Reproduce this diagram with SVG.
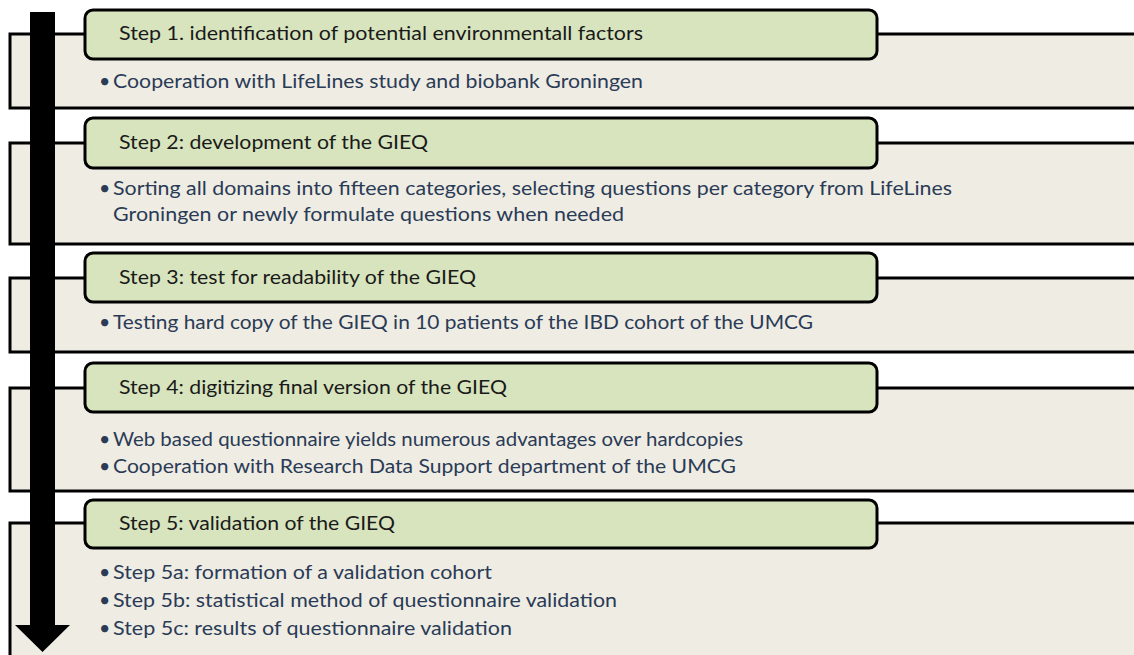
<svg xmlns="http://www.w3.org/2000/svg" width="1134" height="655" viewBox="0 0 1134 655">
<style>
.panel{fill:#efece4;stroke:none}
.edge{fill:none;stroke:#000;stroke-width:3}
.box{fill:#d7e4bd;stroke:#000;stroke-width:3}
.title{font-family:Lato,"Open Sans",sans-serif;font-size:19.5px;fill:#1a1a1a}
.bul{font-family:Lato,"Open Sans",sans-serif;font-size:19.5px;fill:#2a3b56}
</style>
<rect width="1134" height="655" fill="#fff"/>
<g id="step1">
<rect class="panel" x="10" y="34" width="1130" height="74"/>
<path class="edge" d="M1136,34 H10 V108 H1136"/>
<rect class="box" x="85" y="10" width="792" height="49" rx="8"/>
<text class="title" x="119" y="40" textLength="524" lengthAdjust="spacingAndGlyphs">Step 1. identification of potential environmentall factors</text>
<text class="bul" x="99" y="88">•</text>
<text class="bul" x="113" y="88" textLength="530" lengthAdjust="spacingAndGlyphs">Cooperation with LifeLines study and biobank Groningen</text>
</g>
<g id="step2">
<rect class="panel" x="10" y="143" width="1130" height="101"/>
<path class="edge" d="M1136,143 H10 V244 H1136"/>
<rect class="box" x="85" y="118" width="792" height="50" rx="8"/>
<text class="title" x="119" y="149" textLength="309" lengthAdjust="spacingAndGlyphs">Step 2: development of the GIEQ</text>
<text class="bul" x="99" y="195">•</text>
<text class="bul" x="113" y="195" textLength="839" lengthAdjust="spacingAndGlyphs">Sorting all domains into fifteen categories, selecting questions per category from LifeLines</text>
<text class="bul" x="113" y="221" textLength="511" lengthAdjust="spacingAndGlyphs">Groningen or newly formulate questions when needed</text>
</g>
<g id="step3">
<rect class="panel" x="10" y="278" width="1130" height="74"/>
<path class="edge" d="M1136,278 H10 V352 H1136"/>
<rect class="box" x="85" y="253" width="792" height="49" rx="8"/>
<text class="title" x="119" y="284" textLength="357" lengthAdjust="spacingAndGlyphs">Step 3: test for readability of the GIEQ</text>
<text class="bul" x="99" y="329">•</text>
<text class="bul" x="113" y="329" textLength="700" lengthAdjust="spacingAndGlyphs">Testing hard copy of the GIEQ in 10 patients of the IBD cohort of the UMCG</text>
</g>
<g id="step4">
<rect class="panel" x="10" y="388" width="1130" height="103"/>
<path class="edge" d="M1136,388 H10 V491 H1136"/>
<rect class="box" x="85" y="363" width="792" height="49" rx="8"/>
<text class="title" x="119" y="394" textLength="388" lengthAdjust="spacingAndGlyphs">Step 4: digitizing final version of the GIEQ</text>
<text class="bul" x="99" y="446">•</text>
<text class="bul" x="113" y="446" textLength="630" lengthAdjust="spacingAndGlyphs">Web based questionnaire yields numerous advantages over hardcopies</text>
<text class="bul" x="99" y="473">•</text>
<text class="bul" x="113" y="473" textLength="623" lengthAdjust="spacingAndGlyphs">Cooperation with Research Data Support department of the UMCG</text>
</g>
<g id="step5">
<rect class="panel" x="10" y="523" width="1130" height="140"/>
<path class="edge" d="M1136,523 H10 V660"/>
<rect class="box" x="85" y="500" width="792" height="48" rx="8"/>
<text class="title" x="119" y="530" textLength="276" lengthAdjust="spacingAndGlyphs">Step 5: validation of the GIEQ</text>
<text class="bul" x="99" y="579">•</text>
<text class="bul" x="113" y="579" textLength="379" lengthAdjust="spacingAndGlyphs">Step 5a: formation of a validation cohort</text>
<text class="bul" x="99" y="607">•</text>
<text class="bul" x="113" y="607" textLength="504" lengthAdjust="spacingAndGlyphs">Step 5b: statistical method of questionnaire validation</text>
<text class="bul" x="99" y="635">•</text>
<text class="bul" x="113" y="635" textLength="399" lengthAdjust="spacingAndGlyphs">Step 5c: results of questionnaire validation</text>
</g>
<g id="connectors">
<path d="M30,12 H55 V625 H70 L42.5,652 L15,625 H30 Z" fill="#000"/>
</g>
</svg>
